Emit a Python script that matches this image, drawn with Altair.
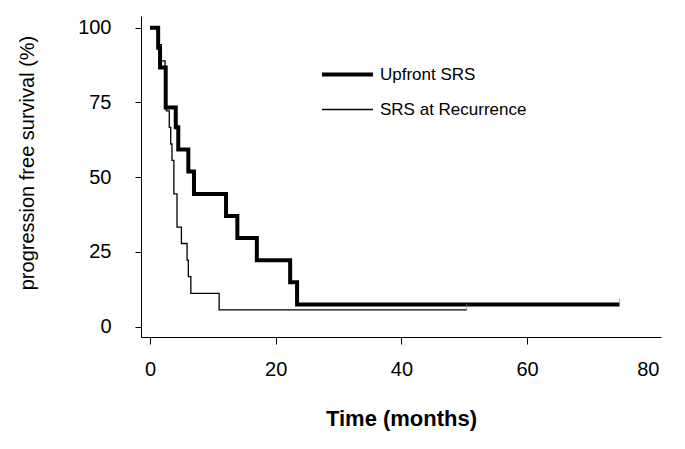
import altair as alt
import pandas as pd

# Kaplan-Meier style step data (months, % progression free)
upfront_time = [0, 1.3, 1.6, 2.5, 4.1, 4.5, 6.1, 7.0, 12.1, 13.9, 17.0, 22.3, 23.4, 74.7]
upfront_pfs = [100, 93.3, 86.7, 73.3, 66.7, 59.3, 51.9, 44.4, 37.0, 29.6, 22.2, 14.8, 7.4, 7.4]

recur_time = [0, 1.3, 1.8, 2.4, 2.5, 2.6, 3.07, 3.3, 3.5, 3.8, 4.3, 5.0, 5.9, 6.1, 6.5, 11.0, 50.4]
recur_pfs = [100, 94.4, 88.9, 83.3, 77.8, 72.2, 66.7, 61.1, 55.6, 44.4, 33.3, 27.8, 22.2, 16.7, 11.1, 5.6, 5.6]

series_names = ["Upfront SRS", "SRS at Recurrence"]
series_widths = [4, 1.3]
x_ticks = [0, 20, 40, 60, 80]
y_ticks = [0, 25, 50, 75, 100]

rows = []
for t, v in zip(upfront_time, upfront_pfs):
    rows.append({"series": series_names[0], "time": t, "pfs": v})
for t, v in zip(recur_time, recur_pfs):
    rows.append({"series": series_names[1], "time": t, "pfs": v})
df = pd.DataFrame(rows)

censor = pd.DataFrame({
    "series": series_names,
    "time": [upfront_time[-1], recur_time[-1]],
    "pfs": [upfront_pfs[-1], recur_pfs[-1]],
})

FONT = "Liberation Sans"

x_enc = alt.X(
    "time:Q",
    scale=alt.Scale(domain=[-1.43, 81.3], nice=False, zero=False),
    axis=alt.Axis(
        values=x_ticks, title="Time (months)", format="d",
        tickSize=7, labelPadding=15, labelFontSize=20,
        tickOpacity=alt.ExprRef(expr="datum.value == 80 ? 0 : 1"),
        labelOffset=alt.ExprRef(expr="datum.value == 80 ? -5 : 0"),
        titleFontSize=22, titleFontWeight="bold",
        titleY=81, titleBaseline="middle",
    ),
)
y_enc = alt.Y(
    "pfs:Q",
    scale=alt.Scale(domain=[-3.5, 103.95], nice=False, zero=False),
    axis=alt.Axis(
        values=y_ticks, title="progression free survival (%)", format="d",
        tickSize=6, labelPadding=24, labelFontSize=20,
        titleFontSize=20, titleFontWeight="normal",
        titleX=-114, titleY=146.5, titleAngle=-90,
        titleBaseline="middle", titleAlign="center",
    ),
)

lines = alt.Chart(df).mark_line(
    interpolate="step-after", color="black", strokeJoin="miter", strokeCap="butt"
).encode(
    x=x_enc,
    y=y_enc,
    strokeWidth=alt.StrokeWidth(
        "series:N",
        scale=alt.Scale(domain=series_names, range=series_widths),
        sort=series_names,
        legend=alt.Legend(
            orient="none", legendX=179, legendY=31, title=None,
            symbolType="stroke", symbolSize=2601, symbolStrokeColor="black",
            labelFontSize=17, labelFont=FONT, labelColor="black",
            labelOffset=5, padding=0, rowPadding=0,
        ),
    ),
    order=alt.Order("time:Q"),
)

ticks = alt.Chart(censor).mark_tick(
    orient="vertical", color="#888888", thickness=1, size=6, yOffset=-3
).encode(x="time:Q", y="pfs:Q")

chart = alt.layer(lines, ticks).properties(
    width=520, height=321,
    padding={"left": 133, "top": 8, "right": 16, "bottom": 104},
    autosize=alt.AutoSizeParams(type="none"),
).configure_view(stroke=None).configure_axis(
    grid=False, domainColor="black", tickColor="black", labelColor="black",
    titleColor="black", labelFont=FONT, titleFont=FONT, domainWidth=1, tickWidth=1,
).configure_legend(labelFont=FONT)

chart.save("out.html", embed_options={"renderer": "svg", "actions": False})
